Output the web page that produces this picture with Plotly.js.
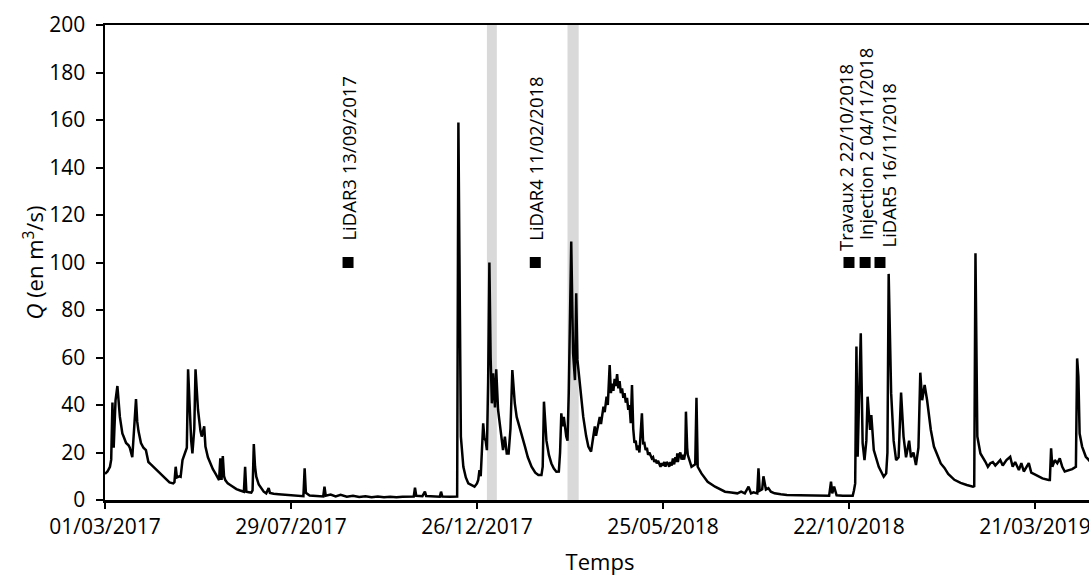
<!DOCTYPE html>
<html>
<head>
<meta charset="utf-8">
<script src="https://cdn.plot.ly/plotly-3.0.1.min.js"></script>
<style>
html,body{margin:0;padding:0;overflow:hidden;background:#fff;}
#chart{width:1095px;height:581px;}
</style>
</head>
<body>
<div id="chart"></div>
<script>
// Series start date; x positions are given as day offsets from this date
const startDate = '2017-03-01';

// Day offsets (days since 01/03/2017) of the discharge readings
const dayOffset = [
0,2,4,5,6,7,8.5,10,12,14,15,17,19,20,22,23.5,25,26,27,29,31,33,35,37,40,44,47,50,52,55,56,57,58,60,61,62.5,64,65,66,67,68.5,69.5,70.5,72,73,75,77,78,80,81,83,85,87,89,91,92,93,94,95,96,97,99,101,104,106,109,112,113,114,116,118,119,120,121,122,124,125,128,130,132,133,136,140,145,150,155,160,161,162,165,170,176,177,178,182,186,190,195,200,205,210,215,220,225,230,235,240,245,249,250,251,256,258,259,265,270,271,272,278,284,
285,287,289,291,293,296,298,300,301,302,303,305,306,307,308,309,310,311,312,313,314.5,315.5,317,318,320,321,322.5,324,325.5,327,328.5,330.5,332,334.7,336,338.7,341,344,347,349.5,352,353,354,356,358,360,362,364,366,367,368,369,370,371,372,373,374,376,377.5,379,380,381,383,385.7,388,
389.8,392,393.5,394.5,395,396,397,398,399,400,401,402,403,404.5,405.5,406,407,408,409,410,411,412,413,414,415,416,417,418,419,420,421,422,423,424,425,426,427,428,429,430,431,433,434,435,436,437,438,439,441,442,443,444,445,446,448,449,450,451,452,453,454,455,456,457,458,459,460,461,461.5,462,463,464,465,466,467,468,468.5,469.5,470,
473,476,477,478,481,486,492,496,500,505,510,513,516,519,521,523,526,527,528,530,531,533,535,537,540,545,550,560,570,580,584,585.5,586.5,588,590,595,600,603,604,605,
606,607,608,609.5,611,612.5,614,615,617,618,620,624,628,630,631,632,634,636,638,640,642,644,646,648.5,650,652,654,656,657.5,659,661,663,666,668.5,672,674,677,680,685,690,695,700,701,702,703.5,706,710,712,714,716,718,722,724,727,730,732,734,737,739,741,745,747,751,756,761,762,763,764,766,768,770,772,774,777,780,783,784,785,786,788,791,793.5,798
];

// Discharge Q (m3/s)
const discharge = [
11,12,14,17,41,22,42,48,35,28,26.7,24,23,22,18,29,42.5,33,29,24,22,21,16,15,13.4,11.5,9.8,8.2,7.4,7,7.5,14,9.5,10,9.8,16.8,19,20.4,22,55,36,25,19.6,30,55,38,29,26.7,31,22.5,18,15.4,13,11.2,9,8.4,17.5,8.4,18.5,10,8.4,7,6.3,5.2,4.6,4,3.5,14,3.5,3.3,3.1,4,23.6,14,9.8,6.5,5.6,3.5,2.8,5,3,2.6,2.4,2.2,2,1.8,1.6,13.3,3,1.9,1.6,1.5,5.6,1.8,2.3,1.5,2.2,1.4,1.8,1.3,1.6,1.2,1.5,1.2,1.4,1.2,1.4,1.3,1.5,5.2,1.8,1.6,3.5,1.7,1.5,1.4,3.5,1.5,1.4,1.5,
158.9,26.7,14,9.5,7,6,5.6,7,8.4,12.6,10,32.3,26,25,21,50,100,60,40.7,53.3,39,55,38,33.7,25,21,26.7,19.6,19.6,30,54.7,40.7,35,29.5,28,22.5,18,14,11.5,10.5,10.5,14,41.4,25,19,15.4,13.2,11.9,12,20,36.5,31,35,30,26.7,25,45,108.8,61.8,50.5,87,59,47.7,35,27,
22.5,20.4,25,28,31,27,30,33,35,32,37,39.3,37,43.5,40,44,56.8,45,49,46,51,48,53,47,50,45,47,43,45,41,43,38,40,32.3,48.4,30,24,25,21,23,20,36.5,23.9,24,21,22,19,20,17.5,18,16,17,15.4,16.5,14,15.5,14.5,16,14,16,15.4,14,16,14.5,17.5,15,18,16,19.6,16,19,20,17,19,17,20,37.2,22,19,
14,15,43,14,11.2,7.7,5.6,4.5,3.5,3.2,2.8,3.5,2.8,5.6,2.8,3.2,2.8,13.3,3.9,4.5,10,4.4,5,3.5,2.8,2.4,2.1,2,1.8,1.7,1.8,7.7,2.8,5.6,2,1.8,1.7,1.8,4,7,
64.6,18.2,40,70.2,23.9,16.8,25,43.5,29.5,35.8,21,14,9.8,11.2,20,95.2,45,25,16.8,18,45.2,26.7,18,25,18,20,14.7,22,53.6,42,48.4,42,29.5,22.5,18,15.4,13.5,11,8.5,7.2,6.3,5.6,5.8,103.9,26.7,19.6,16.1,14,15.5,16,14.5,16.8,14.5,16.8,18.2,14,16,12.6,15.5,12,15.5,11.5,10.5,9.1,8.4,8.4,21.8,14,16.8,15.5,17.5,14,12,12.6,13,14,59.6,52,28,22.5,18.2,16.8,14
];

// Events (markers drawn at Q = 100)
const eventLabels = ['LiDAR3 13/09/2017','LiDAR4 11/02/2018','Travaux 2 22/10/2018','Injection 2 04/11/2018','LiDAR5 16/11/2018'];
const eventDates = ['2017-09-13','2018-02-11','2018-10-22','2018-11-04','2018-11-16'];
const eventQ = [100,100,100,100,100];

// Shaded periods
const bandStarts = ['2018-01-03','2018-03-09'];
const bandEnds = ['2018-01-11','2018-03-18'];

// Axis settings
const xRangeDays = [0, 798.4];
const tickStepDays = 150;

// label offsets (styling)
const labelXShift = [0,0,-4,0,9];
const labelYShift = [20,20,10,20,13];

function dayToDate(d){
  const t = Date.parse(startDate + 'T00:00:00Z') + d*86400000;
  return new Date(t).toISOString().slice(0,19).replace('T',' ');
}

const xDates = dayOffset.map(dayToDate);
const FONT = '"Open Sans", "Liberation Sans", sans-serif';

const traces = [
  {
    x: xDates, y: discharge, type: 'scatter', mode: 'lines',
    line: {color: '#000000', width: 2.5}, hoverinfo: 'skip', showlegend: false
  },
  {
    x: eventDates, y: eventQ, type: 'scatter', mode: 'markers',
    marker: {symbol: 'square', size: 11, color: '#000000'}, showlegend: false
  }
];

const annotations = eventLabels.map((t,i)=>({
  x: eventDates[i], y: eventQ[i], xref:'x', yref:'y',
  text: t, textangle: -90, showarrow: false,
  xanchor: 'center', yanchor: 'bottom', yshift: labelYShift[i], xshift: labelXShift[i],
  font: {family: FONT, size: 18.5, color: '#000'}
}));

const shapes = bandStarts.map((s,i)=>({
  type: 'rect', xref: 'x', yref: 'paper', x0: s, x1: bandEnds[i], y0: 0, y1: 1,
  fillcolor: '#d9d9d9', line: {width: 0}, layer: 'below'
}));

const layout = {
  width: 1095, height: 581,
  margin: {l: 105, r: 0, t: 25, b: 81},
  paper_bgcolor: '#ffffff', plot_bgcolor: '#ffffff',
  font: {family: FONT, color: '#000', size: 21},
  showlegend: false,
  xaxis: {
    type: 'date',
    range: [dayToDate(xRangeDays[0]), dayToDate(xRangeDays[1])],
    tick0: startDate, dtick: tickStepDays*86400000,
    tickformat: '%d/%m/%Y',
    ticks: 'outside', ticklen: 6, tickwidth: 2, tickcolor: '#000',
    showline: true, linecolor: '#000', linewidth: 2.5, mirror: true,
    showgrid: false, zeroline: false,
    tickfont: {family: FONT, size: 21, color: '#000'},
    title: {text: 'Temps', font: {family: FONT, size: 22, color: '#000'}, standoff: 16}
  },
  yaxis: {
    range: [0, 200], dtick: 20, tick0: 0,
    ticks: 'outside', ticklen: 7, tickwidth: 2, tickcolor: '#000',
    ticklabelstandoff: 6,
    showline: true, linecolor: '#000', linewidth: 2.5,
    showgrid: false, zeroline: false,
    tickfont: {family: FONT, size: 21, color: '#000'},
    title: {text: '<i>Q</i> (en m<sup>3</sup>/s)', font: {family: FONT, size: 22, color: '#000'}, standoff: 0}
  },
  shapes: shapes,
  annotations: annotations
};

Plotly.newPlot('chart', traces, layout, {displayModeBar: false, staticPlot: true});
</script>
</body>
</html>
